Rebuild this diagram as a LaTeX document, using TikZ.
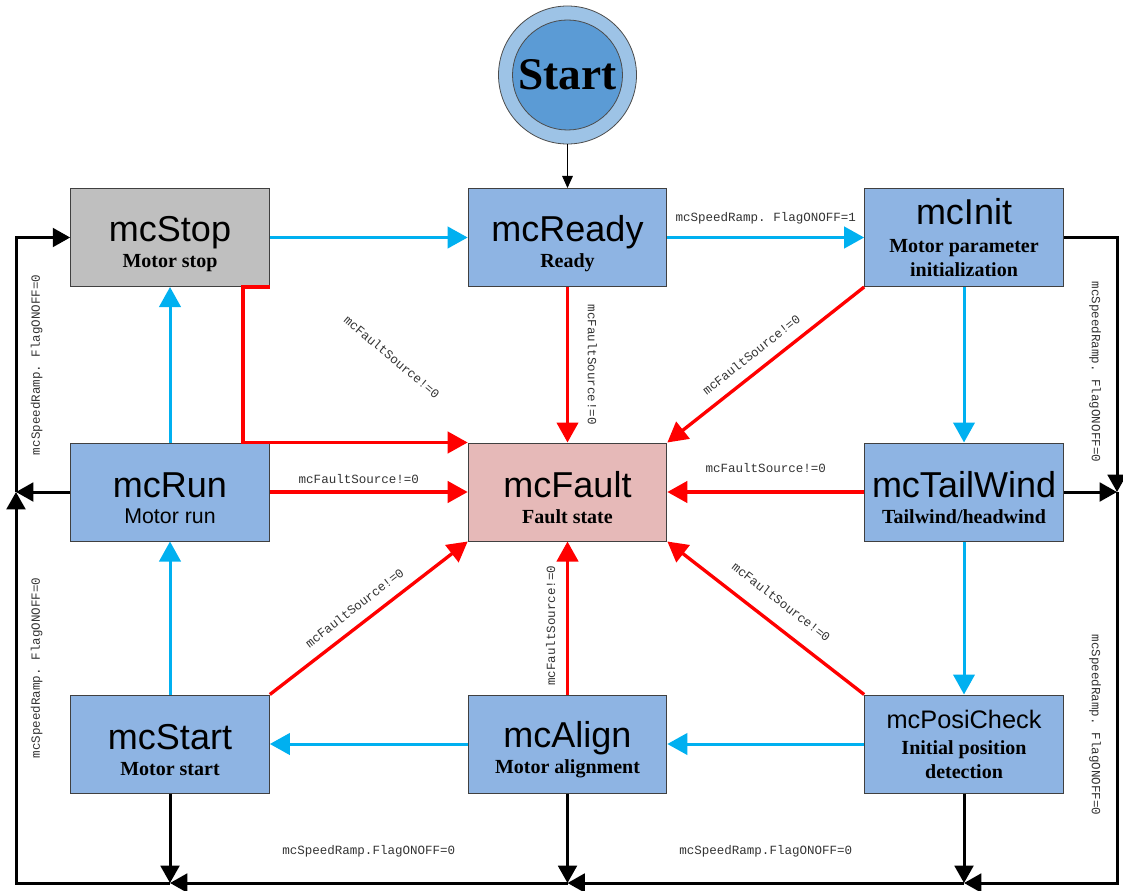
\documentclass[tikz,border=0pt]{standalone}
\usepackage{fontspec}
\setmainfont{Liberation Serif}
\setsansfont{Liberation Sans}
\setmonofont{Liberation Mono}
\usetikzlibrary{arrows.meta}

\definecolor{boxblue}{HTML}{8EB4E3}
\definecolor{boxgray}{HTML}{BFBFBF}
\definecolor{boxred}{HTML}{E6B9B8}
\definecolor{ringblue}{HTML}{9DC3E6}
\definecolor{coreblue}{HTML}{5B9BD5}
\definecolor{flowblue}{HTML}{00B0F0}
\definecolor{faultred}{HTML}{FF0000}

\newcommand{\TTL}[2][27]{{\fontsize{#1}{#1}\selectfont\sffamily\mdseries #2}}
\newcommand{\TTLB}[1]{\TTL{\rule{0pt}{28pt}#1}}
\newcommand{\FLT}{mcFaultSource!=0}
\newcommand{\RMP}[1]{mcSpeedRamp. FlagONOFF=#1}

\tikzset{
  state/.style={draw=black!75, line width=0.75pt, fill=boxblue,
    minimum width=149pt, minimum height=73.5pt, inner sep=0pt,
    align=center, font=\fontsize{15}{18}\selectfont\bfseries},
  cond/.style={font=\fontsize{9.4}{10}\selectfont\ttfamily, text=black!80, inner sep=2pt},
  bluearr/.style={draw=flowblue, line width=2.25pt, -{Triangle[length=15pt,width=16pt]}},
  redarr/.style={draw=faultred, line width=2.5pt, -{Triangle[length=15pt,width=16pt]}},
  blackarr/.style={draw=black, line width=2.25pt, -{Triangle[length=13pt,width=14pt]}}
}

\begin{document}
\begin{tikzpicture}[x=0.75pt,y=-0.75pt]
  \useasboundingbox (0,0) rectangle (1123,891);

  % start circle
  \node[circle, draw=black!70, line width=0.6pt, fill=ringblue, minimum size=103.5pt] (begin) at (567.5,75) {};
  \node[circle, draw=black!70, line width=0.6pt, fill=coreblue, minimum size=82.5pt, inner sep=0pt,
    font=\fontsize{34}{34}\selectfont\bfseries] (begincore) at (begin) {Start};

  % states
  \node[state, fill=boxgray] (stop) at (170,237.5) {\TTLB{mcStop}\\[1.5pt]Motor stop};
  \node[state] (ready) at (567.5,237.5) {\TTLB{mcReady}\\[1.5pt]Ready};
  \node[state] (init) at (964,237.5) {\TTL{mcInit}\\[3pt]Motor parameter\\initialization};
  \node[state] (run) at (170,492) {\TTLB{mcRun}\\[1.5pt]{\fontsize{16}{18}\selectfont\sffamily\mdseries Motor run}};
  \node[state, fill=boxred] (fault) at (567.5,492) {\TTLB{mcFault}\\[1.5pt]Fault state};
  \node[state] (tail) at (964,492) {\TTLB{mcTailWind}\\[1.5pt]Tailwind/headwind};
  \node[state] (start) at (170,744) {\TTLB{mcStart}\\[1.5pt]Motor start};
  \node[state] (align) at (567.5,744) {\TTLB{mcAlign}\\[1.5pt]Motor alignment};
  \node[state] (posi) at (964,744) {\TTL[19]{mcPosiCheck}\\[1.5pt]Initial position\\detection};

  \draw[line width=0.75pt, -{Triangle[length=9pt,width=8pt]}] (begin) -- (ready);

  % normal flow
  \draw[bluearr] (stop) -- (ready);
  \draw[bluearr] (ready) -- node[cond, above=7pt] {\RMP{1}} (init);
  \draw[bluearr] (init) -- (tail);
  \draw[bluearr] (tail) -- (posi);
  \draw[bluearr] (posi) -- (align);
  \draw[bluearr] (align) -- (start);
  \draw[bluearr] (start) -- (run);
  \draw[bluearr] (run) -- (stop);

  % fault flow
  \draw[redarr] (stop.south east) -- ++(-27,0) |- (fault.north west);
  \node[cond, rotate=-40] (stopcond) at (392,357) {\FLT};
  \draw[redarr] (ready) -- node[cond, sloped, above=12pt] {\FLT} (fault);
  \draw[redarr] (init.south west) -- node[cond, sloped, above=6pt, pos=0.52] {\FLT} (fault.north east);
  \draw[redarr] (tail) -- node[cond, above=11pt] {\FLT} (fault);
  \draw[redarr] (posi.north west) -- node[cond, sloped, above=10pt, pos=0.49] {\FLT} (fault.south east);
  \draw[redarr] (align) -- node[cond, sloped, above=6pt, pos=0.45] {\FLT} (fault);
  \draw[redarr] (start.north east) -- node[cond, sloped, above=6pt, pos=0.48] {\FLT} (fault.south west);
  \draw[redarr] (run) -- node[cond, above=3pt, pos=0.45] {\FLT} (fault);

  % stop loop
  \coordinate (rjoin) at (1117,492);
  \coordinate (bposi) at (964,883);
  \coordinate (balign) at (567.5,883);
  \coordinate (bstart) at (170,883);
  \coordinate (ljoin) at (16,492);

  \draw[blackarr] (init.east) -| node[cond, sloped, below=9pt, pos=0.764] {\RMP{0}} (rjoin);
  \draw[blackarr] (tail.east) -- (rjoin);
  \draw[blackarr] (rjoin) |- node[cond, sloped, below=9pt, pos=0.298] {\RMP{0}} (bposi);
  \draw[blackarr] (posi.south) -- (bposi);
  \draw[blackarr] (bposi) -- node[cond, above=16pt] {mcSpeedRamp.FlagONOFF=0} (balign);
  \draw[blackarr] (align.south) -- (balign);
  \draw[blackarr] (balign) -- node[cond, above=16pt] {mcSpeedRamp.FlagONOFF=0} (bstart);
  \draw[blackarr] (start.south) -- (bstart);
  \draw[blackarr] (bstart) -| node[cond, sloped, below=8pt, pos=0.775] {\RMP{0}} (ljoin);
  \draw[blackarr] (run.west) -- (ljoin);
  \draw[blackarr] (ljoin) |- node[cond, sloped, below=8pt, pos=0.25] {\RMP{0}} (stop.west);
\end{tikzpicture}
\end{document}
